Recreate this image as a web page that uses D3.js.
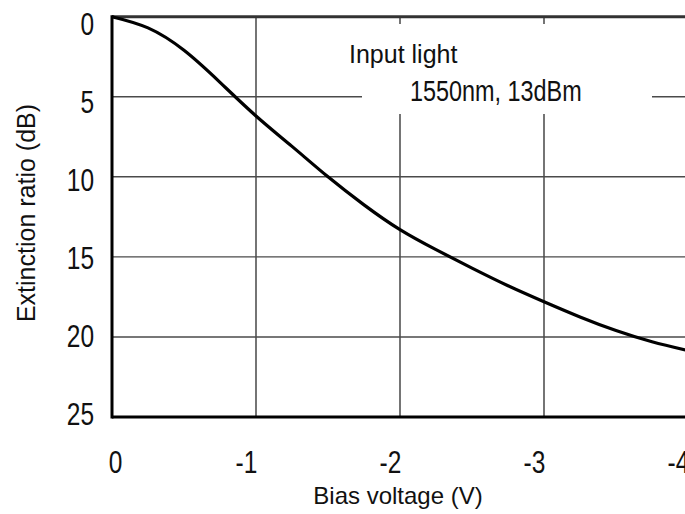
<!DOCTYPE html>
<html>
<head>
<meta charset="utf-8">
<script src="https://cdn.jsdelivr.net/npm/d3@7"></script>
<style>
  body { margin: 0; background: #fff; }
  svg { display: block; }
  text { font-family: "Liberation Sans", Arial, sans-serif; }
</style>
</head>
<body>
<svg id="chart" width="685" height="514"></svg>
<script>
// bias voltage (V) vs extinction ratio (dB)
const voltage = [0, -0.25, -0.5, -0.75, -1, -1.25, -1.5, -1.75, -2, -2.25, -2.5, -2.75, -3, -3.25, -3.5, -3.75, -4];
const extinction = [0, 0.7, 2.1, 4.1, 6.2, 8.1, 10.0, 11.75, 13.3, 14.55, 15.7, 16.8, 17.8, 18.75, 19.6, 20.3, 20.85];
const xTicks = [0, -1, -2, -3, -4];
const yTicks = [0, 5, 10, 15, 20, 25];
const noteLines = ['Input light', '1550nm, 13dBm'];

// condensed look: no narrow face installed, so squeeze Liberation Sans
const squeeze = 0.79;

const svg = d3.select('#chart');

const x = d3.scaleLinear().domain([0, -4]).range([112, 688]);
const y = d3.scaleLinear().domain([0, 25]).range([16.7, 417]);
// the labels in the original sit on a slightly tighter spacing than the grid
const yLabel = d3.scaleLinear().domain([0, 25]).range([25, 415]);

//grid
svg.append('g')
    .selectAll('line')
    .data(xTicks.slice(1, -1))
    .join('line')
    .attr('x1', d => x(d)).attr('x2', d => x(d))
    .attr('y1', y(0)).attr('y2', y(25))
    .attr('stroke', '#3a3a3a')
    .attr('stroke-width', 1.4);

svg.append('g')
    .selectAll('line')
    .data(yTicks.slice(1, -1))
    .join('line')
    .attr('x1', x(0)).attr('x2', x(-4))
    .attr('y1', d => y(d)).attr('y2', d => y(d))
    .attr('stroke', '#4a4a4a')
    .attr('stroke-width', 1.4);

//note box blanks out the grid behind the text
svg.append('rect')
    .attr('x', 362).attr('y', 24)
    .attr('width', 290).attr('height', 90)
    .attr('fill', '#fff');

svg.append('text')
    .attr('x', 349).attr('y', 63)
    .attr('font-size', 25)
    .attr('fill', '#111')
    .text(noteLines[0]);

svg.append('text')
    .attr('transform', `translate(410,101) scale(0.78,1)`)
    .attr('font-size', 30)
    .attr('fill', '#111')
    .text(noteLines[1]);

//frame
svg.append('line')
    .attr('x1', x(0)).attr('x2', x(-4))
    .attr('y1', y(0)).attr('y2', y(0))
    .attr('stroke', '#333').attr('stroke-width', 3);
svg.append('line')
    .attr('x1', x(0)).attr('x2', x(-4))
    .attr('y1', y(25)).attr('y2', y(25))
    .attr('stroke', '#000').attr('stroke-width', 3);
svg.append('line')
    .attr('x1', x(0)).attr('x2', x(0))
    .attr('y1', y(0) - 1.5).attr('y2', y(25) + 1.5)
    .attr('stroke', '#000').attr('stroke-width', 3);

//curve
const line = d3.line()
    .x((d, i) => x(voltage[i]))
    .y(d => y(d))
    .curve(d3.curveNatural);

svg.append('path')
    .datum(extinction)
    .attr('d', line)
    .attr('fill', 'none')
    .attr('stroke', '#000')
    .attr('stroke-width', 3.2);

//axes
const xAxis = svg.append('g')
    .attr('transform', `translate(0,${y(25)})`)
    .call(d3.axisBottom(x).tickValues(xTicks).tickSize(0).tickPadding(34).tickFormat(d => d === 0 ? '0' : '-' + Math.abs(d)));
xAxis.select('.domain').remove();
xAxis.attr('font-family', null).attr('font-size', null);
xAxis.selectAll('text')
    .attr('font-size', 31)
    .attr('fill', '#111')
    .attr('transform', `scale(${squeeze},1)`)
    .attr('dx', d => (d < 0 ? -10 : 3) / squeeze);

const yAxis = svg.append('g')
    .attr('transform', `translate(${x(0)},0)`)
    .call(d3.axisLeft(yLabel).tickValues(yTicks).tickSize(0).tickPadding(18));
yAxis.select('.domain').remove();
yAxis.attr('font-family', null).attr('font-size', null);
yAxis.selectAll('text')
    .attr('font-size', 31)
    .attr('fill', '#111')
    .attr('transform', `scale(${squeeze},1)`)
    .attr('x', -18 / squeeze);

//titles
svg.append('text')
    .attr('x', 398).attr('y', 504)
    .attr('text-anchor', 'middle')
    .attr('font-size', 24)
    .attr('fill', '#111')
    .text('Bias voltage (V)');

svg.append('text')
    .attr('transform', 'translate(35,213) rotate(-90)')
    .attr('text-anchor', 'middle')
    .attr('font-size', 25)
    .attr('fill', '#111')
    .text('Extinction ratio (dB)');
</script>
</body>
</html>
